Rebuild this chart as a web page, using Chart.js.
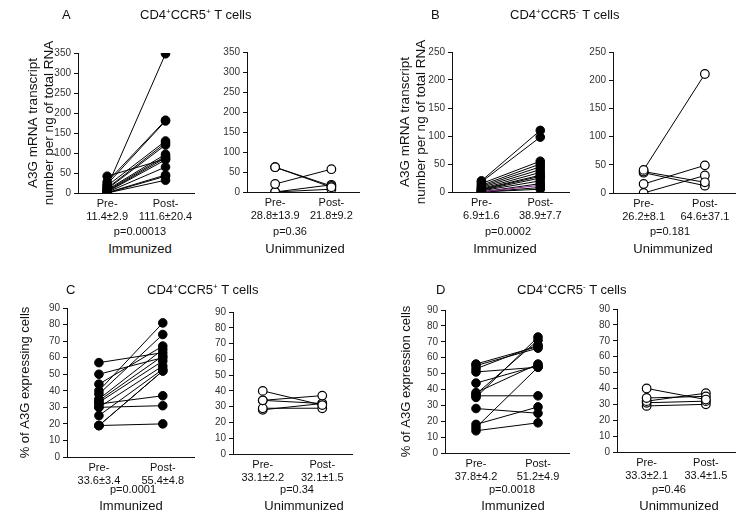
<!DOCTYPE html>
<html><head><meta charset="utf-8">
<script src="https://cdn.jsdelivr.net/npm/chart.js@4.4.1/dist/chart.umd.min.js"></script>
<style>
body{margin:0;width:741px;height:515px;background:#fff;position:relative;overflow:hidden;font-family:"Liberation Sans",Arial,sans-serif;color:#111}
canvas{position:absolute}
.t{position:absolute;white-space:nowrap;line-height:1;transform:translateY(-50%)}
.c{transform:translate(-50%,-50%)}
.ttl{font-size:13px}
.ttl sup{font-size:8px;vertical-align:5px;line-height:0}
.p{font-size:11px}
.g{font-size:13px}
</style></head><body>
<script>
// ---------- data ----------
const categories = ["Pre-", "Post-"];

// Panel A: CD4+CCR5+ mRNA
const aImmPre  = [15, 42, 28, 22, 18, 12, 10, 8, 6, 4, 3, 2, 1, 0, 0];
const aImmPost = [348, 85, 182, 180, 130, 125, 120, 97, 92, 88, 83, 65, 45, 42, 32];
const aUnPre   = [62, 62, 20, 0, 0];
const aUnPost  = [12, 15, 57, 18, 7];
const aImmLabels = [["Pre-", "11.4±2.9"], ["Post-", "111.6±20.4"]];
const aUnLabels  = [["Pre-", "28.8±13.9"], ["Post-", "21.8±9.2"]];

// Panel B: CD4+CCR5- mRNA
const bImmPre  = [20, 18, 15, 12, 10, 8, 6, 5, 4, 3, 2, 0, 0, 0, 0];
const bImmPost = [110, 98, 55, 50, 45, 40, 35, 30, 28, 25, 20, 12, 15, 8, 5];
const bUnPre   = [41, 38, 36, 16, 0];
const bUnPost  = [211, 19, 13, 49, 31];
const bImmLabels = [["Pre-", "6.9±1.6"], ["Post-", "38.9±7.7"]];
const bUnLabels  = [["Pre-", "26.2±8.1"], ["Post-", "64.6±37.1"]];

// Panel C: CD4+CCR5+ % A3G
const cImmPre  = [57, 50, 44, 40, 38, 35, 34, 33, 32, 30, 30, 25, 19, 19, 19];
const cImmPost = [63, 60, 67, 81, 74, 65, 61, 58, 37, 31, 55, 53, 52, 52, 20];
const cUnPre   = [40, 34, 34, 29, 28];
const cUnPost  = [31, 37, 32, 29, 32];
const cImmLabels = [["Pre-", "33.6±3.4"], ["Post-", "55.4±4.8"]];
const cUnLabels  = [["Pre-", "33.1±2.2"], ["Post-", "32.1±1.5"]];

// Panel D: CD4+CCR5- % A3G
const dImmPre  = [56, 55, 53, 51, 44, 38, 37, 36, 35, 28, 18, 16, 14];
const dImmPost = [67, 66, 68, 54, 55, 56, 71, 36, 73, 25, 29, 54, 19];
const dUnPre   = [40, 34, 32, 31, 29];
const dUnPost  = [33, 35, 37, 32, 30];
const dImmLabels = [["Pre-", "37.8±4.2"], ["Post-", "51.2±4.9"]];
const dUnLabels  = [["Pre-", "33.3±2.1"], ["Post-", "33.4±1.5"]];

const pValues = ["p=0.00013", "p=0.36", "p=0.0002", "p=0.181", "p=0.0001", "p=0.34", "p=0.0018", "p=0.46"];
const groupNames = ["Immunized", "Unimmunized"];
const panelLetters = ["A", "B", "C", "D"];
const yTitleMrna = ["A3G mRNA transcript", "number per ng of total RNA"];
const yTitleC = "% of A3G expressing cells";
const yTitleD = "% of A3G expression cells";
const mrnaTicksA = { max: 350, step: 50 };
const mrnaTicksB = { max: 250, step: 50 };
const pctTicks = { max: 90, step: 10 };

// ---------- drawing ----------
const FONT = '"Liberation Sans", Arial, sans-serif';
function addText(html, x, y, cls, center) {
  const d = document.createElement('div');
  d.className = 't ' + cls + (center ? ' c' : '');
  d.style.left = x + 'px'; d.style.top = y + 'px';
  d.innerHTML = html;
  document.body.appendChild(d);
}
function makeChart(g, pre, post, xLabels, yt, yTitle, open, special) {
  const cv = document.createElement('canvas');
  cv.width = g.cw; cv.height = g.ch;
  cv.style.left = g.cx + 'px'; cv.style.top = g.cy + 'px';
  document.body.appendChild(cv);
  const datasets = pre.map((v, i) => {
    const col = (special && special[i]) || '#000';
    return {
      data: [v, post[i]],
      borderColor: col, borderWidth: 1,
      pointRadius: 4.3, pointBorderWidth: open ? 1.2 : 1,
      pointBackgroundColor: open ? '#fff' : '#000',
      pointBorderColor: '#000',
      tension: 0
    };
  });
  new Chart(cv, {
    type: 'line',
    data: { labels: categories, datasets },
    options: {
      responsive: false, animation: false, devicePixelRatio: 1,
      layout: { padding: { left: 0, top: g.T, right: g.R, bottom: 0 } },
      plugins: { legend: { display: false }, tooltip: { enabled: false } },
      scales: {
        x: {
          type: 'category', offset: true,
          grid: { display: false, drawTicks: false },
          border: { display: true, color: '#111', width: 1 },
          ticks: { font: { family: FONT, size: 11 }, color: '#111', padding: 4, autoSkip: false, maxRotation: 0,
                   callback: (v, i) => xLabels[i] },
          afterFit: s => { s.height = g.hx; s.paddingLeft = 0; s.paddingRight = 0; }
        },
        y: {
          min: 0, max: yt.max,
          ticks: { stepSize: yt.step, font: { family: FONT, size: 10 }, color: '#333', padding: 3 },
          grid: { drawOnChartArea: false, drawTicks: true, tickLength: 4, color: '#111' },
          border: { display: true, color: '#111', width: 1 },
          title: yTitle ? { display: true, text: yTitle, color: '#111',
                            font: { family: FONT, size: g.ts, lineHeight: 1.2 },
                            padding: { top: g.tp, bottom: 0 } } : { display: false },
          afterFit: s => { s.width = g.wy; s.paddingTop = 0; s.paddingBottom = 0; }
        }
      }
    }
  });
}

const geo = {
  A:  { cx: 0,   cy: 20,  cw: 200, ch: 213, wy: 78, T: 33, R: 3, hx: 40, ts: 13.5, tp: 25 },
  A2: { cx: 200, cy: 20,  cw: 165, ch: 212, wy: 47, T: 32, R: 4, hx: 40 },
  B:  { cx: 385, cy: 20,  cw: 190, ch: 212, wy: 67, T: 32, R: 3, hx: 40, ts: 13.5, tp: 12 },
  B2: { cx: 578, cy: 20,  cw: 163, ch: 213, wy: 35, T: 32, R: 1, hx: 40 },
  C:  { cx: 0,   cy: 280, cw: 200, ch: 217, wy: 67, T: 28, R: 3, hx: 40, ts: 13, tp: 18 },
  C2: { cx: 200, cy: 280, cw: 160, ch: 214, wy: 33, T: 32, R: 8, hx: 40 },
  D:  { cx: 385, cy: 280, cw: 190, ch: 213, wy: 60, T: 30, R: 6, hx: 40, ts: 13, tp: 14 },
  D2: { cx: 580, cy: 280, cw: 161, ch: 212, wy: 37, T: 29, R: 2, hx: 40 }
};

makeChart(geo.A,  aImmPre, aImmPost, aImmLabels, mrnaTicksA, yTitleMrna, false);
makeChart(geo.A2, aUnPre,  aUnPost,  aUnLabels,  mrnaTicksA, null, true);
const bSpecial = []; bSpecial[11] = '#8b2a8f';
makeChart(geo.B,  bImmPre, bImmPost, bImmLabels, mrnaTicksB, yTitleMrna, false, bSpecial);
makeChart(geo.B2, bUnPre,  bUnPost,  bUnLabels,  mrnaTicksB, null, true);
makeChart(geo.C,  cImmPre, cImmPost, cImmLabels, pctTicks, yTitleC, false);
makeChart(geo.C2, cUnPre,  cUnPost,  cUnLabels,  pctTicks, null, true);
makeChart(geo.D,  dImmPre, dImmPost, dImmLabels, pctTicks, yTitleD, false);
makeChart(geo.D2, dUnPre,  dUnPost,  dUnLabels,  pctTicks, null, true);

// panel letters and titles
const titlePlus = 'CD4<sup>+</sup>CCR5<sup>+</sup> T cells';
const titleMinus = 'CD4<sup>+</sup>CCR5<sup>-</sup> T cells';
addText(panelLetters[0], 62, 14, 'ttl'); addText(titlePlus, 140, 14, 'ttl');
addText(panelLetters[1], 431, 14, 'ttl'); addText(titleMinus, 510, 14, 'ttl');
addText(panelLetters[2], 66, 289, 'ttl'); addText(titlePlus, 147, 289, 'ttl');
addText(panelLetters[3], 436, 289, 'ttl'); addText(titleMinus, 517, 289, 'ttl');

// p values and group names
const pPos = [[140, 231], [290, 231], [508, 231], [670, 231], [133, 489], [297, 489], [512, 489], [669, 489]];
const gPos = [[140, 248], [305, 248], [505, 248], [673, 248], [131, 505], [304, 505], [513, 505], [679, 505]];
pValues.forEach((p, i) => addText(p, pPos[i][0], pPos[i][1], 'p', true));
gPos.forEach((pos, i) => addText(groupNames[i % 2], pos[0], pos[1], 'g', true));
</script>
</body></html>
